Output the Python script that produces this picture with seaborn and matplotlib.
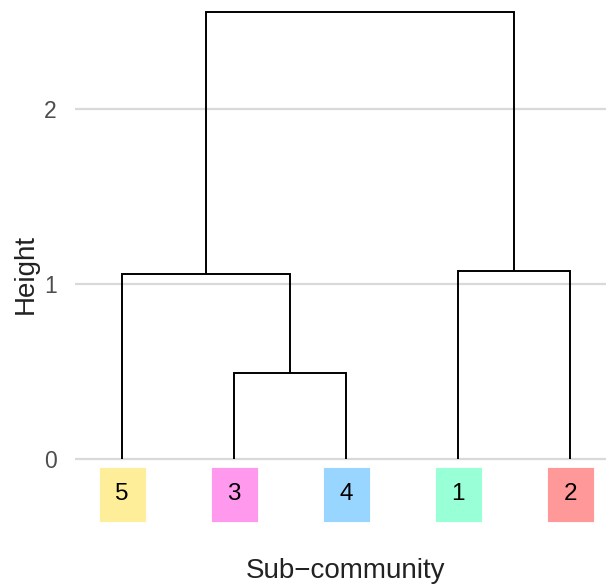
import matplotlib
matplotlib.use("Agg")
import matplotlib.pyplot as plt
from matplotlib.patches import Rectangle
import pandas as pd
import seaborn as sns

# Leaf order along the x axis and their fill colours
leaves = ["5", "3", "4", "1", "2"]
leaf_colors = ["#FFEE99", "#FF99EE", "#99D6FF", "#99FFD6", "#FF9999"]

# Merge steps: children joined at each step and the height of the join
merge_children = [("3", "4"), ("5", "m1"), ("1", "2"), ("m2", "m3")]
merge_heights = [0.494, 1.060, 1.077, 2.559]

y_ticks = [0, 1, 2]

sns.set_style("white")
plt.rcParams["font.family"] = ["Liberation Sans", "DejaVu Sans"]

# Node coordinates: leaves sit at height 0, merges at the midpoint of their children
node_x = {name: i + 1 for i, name in enumerate(leaves)}
node_y = {name: 0.0 for name in leaves}
rows = []
for i, ((left, right), h) in enumerate(zip(merge_children, merge_heights)):
    name = f"m{i + 1}"
    path = [(node_x[left], node_y[left]), (node_x[left], h),
            (node_x[right], h), (node_x[right], node_y[right])]
    for order, (x, y) in enumerate(path):
        rows.append({"seg": name, "order": order, "x": x, "y": y})
    node_x[name] = (node_x[left] + node_x[right]) / 2
    node_y[name] = h
segments = pd.DataFrame(rows)

fig = plt.figure(figsize=(6.06, 5.87), dpi=100)
ax = fig.add_axes([75 / 606, 1 - 530 / 587, 531 / 606, 525 / 587])

sns.lineplot(data=segments, x="x", y="y", units="seg", estimator=None,
             sort=False, color="black", linewidth=1.4, ax=ax, zorder=3)
for line in ax.get_lines():
    line.set_solid_joinstyle("miter")
    line.set_solid_capstyle("butt")

# Coloured label boxes under each leaf
box_w, box_top, box_bottom = 0.42, -0.041, -0.355
for i, (lab, col) in enumerate(zip(leaves, leaf_colors)):
    x = i + 1
    ax.add_patch(Rectangle((x - box_w / 2, box_bottom), box_w, box_top - box_bottom,
                           facecolor=col, edgecolor="white", linewidth=0.6, zorder=2))
    ax.text(x, (box_top + box_bottom) / 2, lab, ha="center", va="center",
            fontsize=17.5, color="black", zorder=4)

ax.set_xlim(0.58, 5.321)
ax.set_ylim(-0.403, 2.597)
ax.set_xticks([])
ax.set_yticks(y_ticks)
ax.set_yticklabels([str(t) for t in y_ticks])
ax.tick_params(axis="y", length=0, pad=13, labelsize=16.5, labelcolor="#4D4D4D")
ax.yaxis.grid(True, color="#D9D9D9", linewidth=1.6, zorder=0)
ax.xaxis.grid(False)
ax.set_axisbelow(True)
for spine in ax.spines.values():
    spine.set_visible(False)

ax.set_xlabel("Sub\u2212community", fontsize=20, color="#222222")
ax.set_ylabel("Height", fontsize=20, color="#222222")
ax.xaxis.set_label_coords((346 - 75) / 531, -(558 - 530) / 525)
ax.yaxis.set_label_coords(-(75 - 26) / 531, (530 - 274) / 525)
ax.xaxis.label.set_va("top")
ax.yaxis.label.set_va("center")

fig.savefig("out.png", dpi=100)
